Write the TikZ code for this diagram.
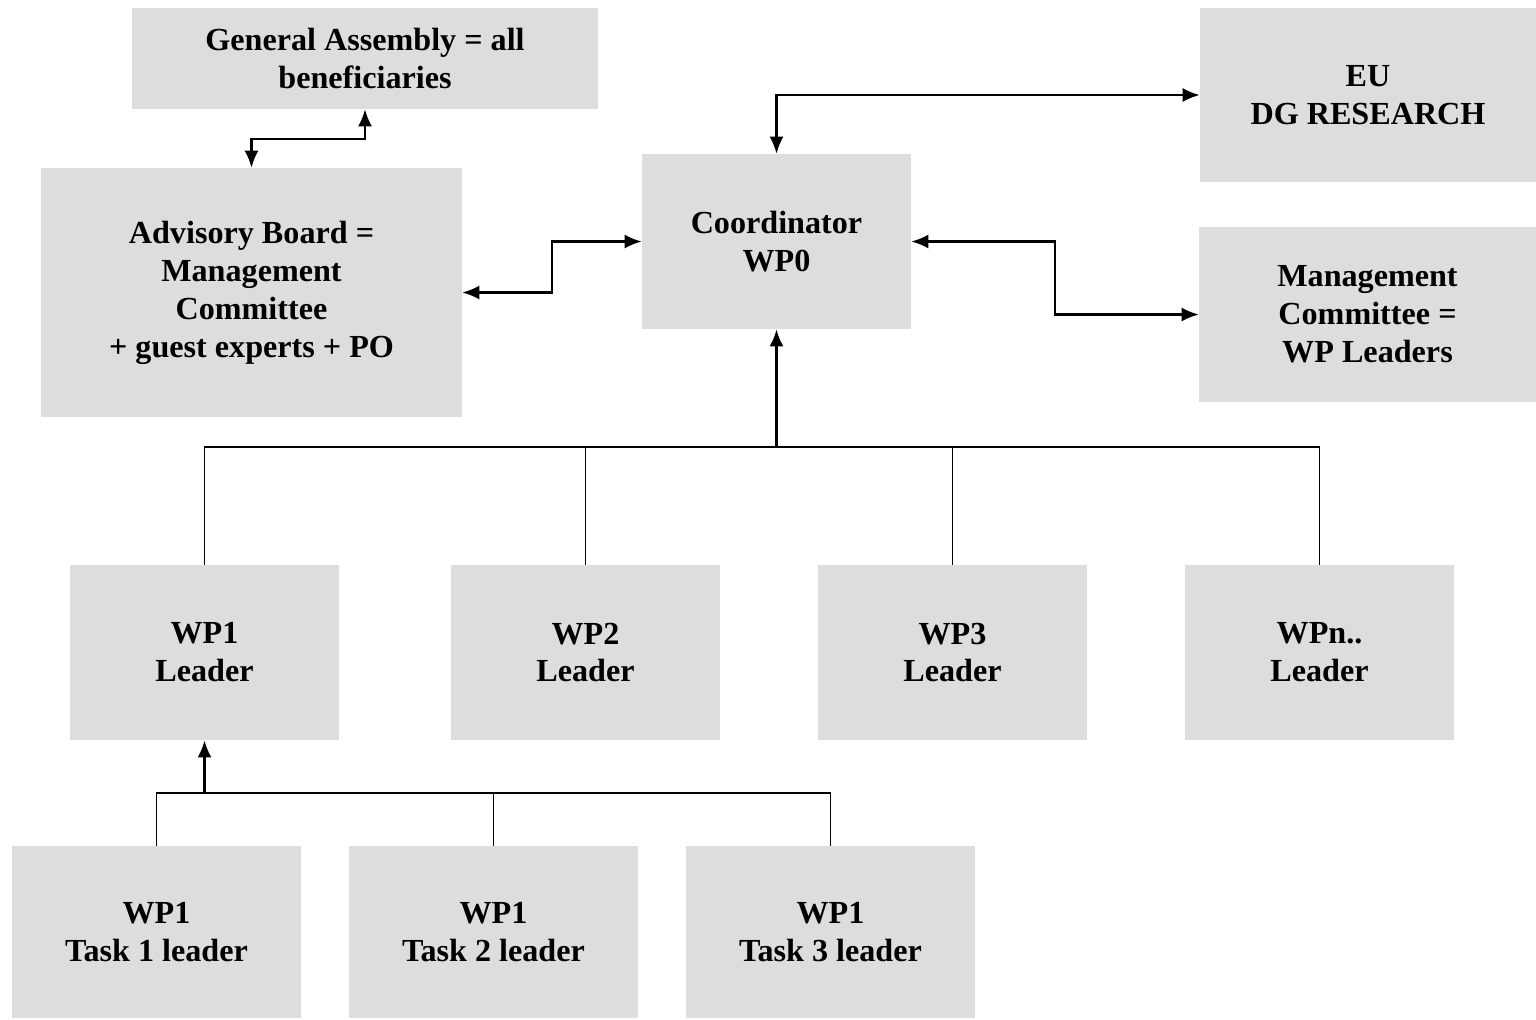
\documentclass[tikz,border=0pt]{standalone}
\usepackage{fontspec}
\setmainfont{Liberation Serif}
\usetikzlibrary{arrows.meta,calc}
\definecolor{boxgray}{HTML}{DDDDDD}
\tikzset{
  box/.style={fill=boxgray,inner sep=0pt,align=center,
    font=\bfseries\fontsize{18.3}{21.6}\selectfont},
  link/.style={line width=1.2pt,{Latex[length=3.4mm,width=2.8mm]}-{Latex[length=3.4mm,width=2.8mm]}},
  up/.style={line width=1.4pt,-{Latex[length=3.4mm,width=2.8mm]}},
  tree/.style={line width=1.1pt}
}
\begin{document}
\begin{tikzpicture}[x=0.02cm,y=-0.02cm]
   \useasboundingbox (0,0) rectangle (1536,1019);
   % top level boxes
   \node [box,minimum width=9.32cm,minimum height=2.02cm] (ga) at (365,58.5) {General Assembly = all\\beneficiaries};
   \node [box,minimum width=8.42cm,minimum height=4.98cm] (ab) at (251.5,292.5) {Advisory Board =\\Management\\Committee\\+ guest experts + PO};
   \node [box,minimum width=5.38cm,minimum height=3.5cm] (coord) at (776.5,241.5) {Coordinator\\WP0};
   \node [box,minimum width=6.72cm,minimum height=3.48cm] (eu) at (1368,95) {EU\\DG RESEARCH};
   \node [box,minimum width=6.74cm,minimum height=3.5cm] (mc) at (1367.5,314.5) {Management\\Committee =\\WP Leaders};
   % work package leaders
   \node [box,minimum width=5.38cm,minimum height=3.5cm] (wp1) at (204.5,652.5) {WP1\\Leader};
   \node [box,minimum width=5.38cm,minimum height=3.5cm] (wp2) at (585.5,652.5) {WP2\\Leader};
   \node [box,minimum width=5.38cm,minimum height=3.5cm] (wp3) at (952.5,652.5) {WP3\\Leader};
   \node [box,minimum width=5.38cm,minimum height=3.5cm] (wpn) at (1319.5,652.5) {WPn..\\Leader};
   % task leaders
   \node [box,minimum width=5.78cm,minimum height=3.44cm] (t1) at (156.5,932) {WP1\\Task 1 leader};
   \node [box,minimum width=5.78cm,minimum height=3.44cm] (t2) at (493.5,932) {WP1\\Task 2 leader};
   \node [box,minimum width=5.78cm,minimum height=3.44cm] (t3) at (830.5,932) {WP1\\Task 3 leader};
   % two-way links
   \draw [link] (ga.south) -- ++(0,30) -| (ab.north);
   \draw [link] (ab.east) -- ++(90,0) |- (coord.west);
   \draw [link] (coord.north) |- (eu.west);
   \draw [link] (coord.east) -- ++(144,0) |- (mc.west);
   % WP leaders to coordinator
   \coordinate (hub) at ($(coord.south)+(0,118)$);
   \draw [tree] (wp1.north) |- (hub) -| (wpn.north);
   \draw [tree] (wp2.north) -- (wp2.north |- hub);
   \draw [tree] (wp3.north) -- (wp3.north |- hub);
   \draw [up] (hub) -- (coord.south);
   % task leaders to WP1
   \coordinate (thub) at ($(wp1.south)+(0,53)$);
   \draw [tree] (t1.north) |- (thub) -| (t3.north);
   \draw [tree] (t2.north) -- (t2.north |- thub);
   \draw [up] (thub) -- (wp1.south);
\end{tikzpicture}
\end{document}
